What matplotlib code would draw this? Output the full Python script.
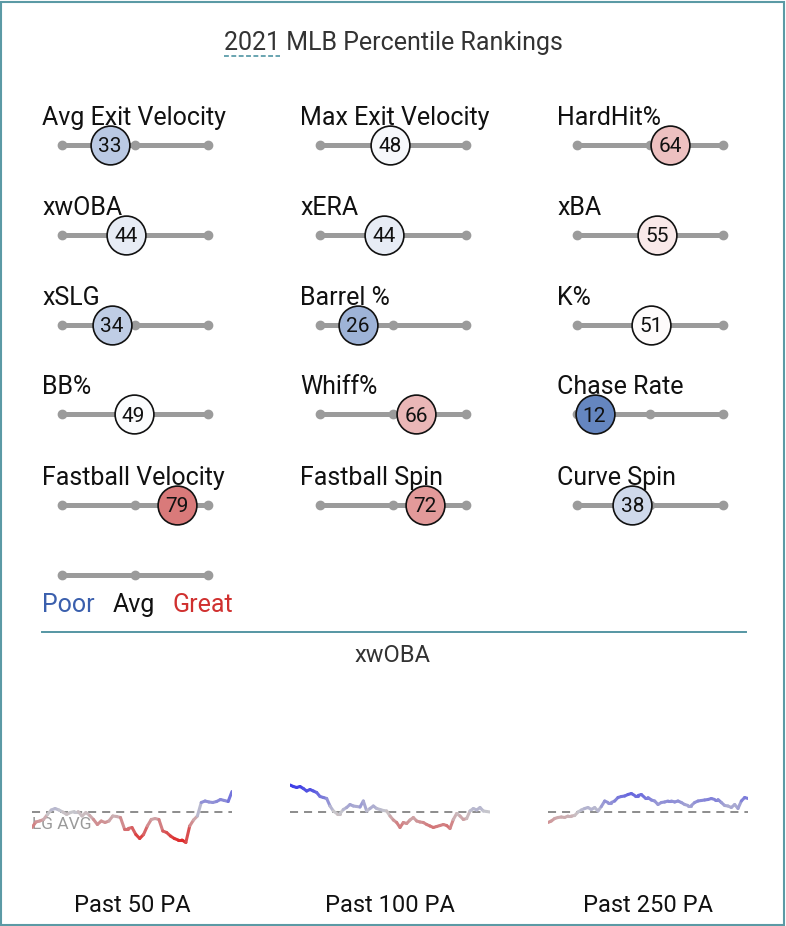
import matplotlib
matplotlib.use("Agg")
import matplotlib.pyplot as plt
import numpy as np
from matplotlib.collections import LineCollection
from matplotlib.colors import LinearSegmentedColormap, TwoSlopeNorm
from matplotlib.lines import Line2D
from matplotlib.patches import Rectangle

plt.rcParams["font.family"] = ["Liberation Sans Narrow", "Roboto", "DejaVu Sans"]
plt.rcParams["lines.scale_dashes"] = False

W, H = 786, 926

# percentile rankings, read left to right, top to bottom
metrics = [
    "Avg Exit Velocity", "Max Exit Velocity", "HardHit%",
    "xwOBA", "xERA", "xBA",
    "xSLG", "Barrel %", "K%",
    "BB%", "Whiff%", "Chase Rate",
    "Fastball Velocity", "Fastball Spin", "Curve Spin",
]
percentiles = [33, 48, 64, 44, 44, 55, 34, 26, 51, 49, 66, 12, 79, 72, 38]

# rolling xwOBA
lg_avg = 0.315
windows = ["Past 50 PA", "Past 100 PA", "Past 250 PA"]
xwoba_50 = [
    .284, .295, .297, .300, .310, .319, .322, .319, .315, .310, .314, .316,
    .316, .307, .314, .308, .300, .290, .297, .294, .297, .307, .306, .304,
    .282, .282, .284, .270, .262, .270, .287, .300, .302, .300, .277, .274,
    .267, .262, .259, .259, .254, .287, .299, .307, .334, .337, .335, .334,
    .336, .340, .338, .336, .356,
]
xwoba_100 = [
    .369, .366, .364, .366, .362, .357, .360, .357, .354, .346, .344, .342,
    .327, .317, .312, .312, .320, .324, .330, .327, .326, .325, .337, .317,
    .322, .327, .322, .320, .318, .317, .307, .299, .294, .284, .294, .292,
    .299, .304, .297, .295, .294, .290, .287, .284, .286, .288, .290, .288,
    .282, .300, .312, .307, .300, .302, .317, .322, .319, .324, .317, .316,
    .315,
]
xwoba_250 = [
    .294, .297, .302, .304, .305, .304, .307, .307, .308, .315, .319, .322,
    .324, .320, .324, .317, .326, .337, .334, .334, .337, .344, .346, .347,
    .350, .352, .348, .348, .350, .344, .344, .339, .337, .330, .334, .335,
    .337, .337, .335, .337, .334, .330, .328, .328, .334, .337, .338, .339,
    .340, .342, .340, .340, .334, .328, .327, .324, .330, .322, .337, .344,
    .342,
]

fig = plt.figure(figsize=(W / 100, H / 100), dpi=100)


def fig_box(x, y, w, h):
    # pixel box with top-left origin -> figure fraction rect
    return [x / W, 1 - (y + h) / H, w / W, h / H]


pct_cmap = LinearSegmentedColormap.from_list("savant", ["#3661ad", "#ffffff", "#be1b1b"])

col_x = [62, 320, 577]
row_y = [145, 235, 325, 414, 505]
bar_w = 146
label_size = 18


def draw_bar(ax):
    ax.plot([0, 100], [0, 0], color="#9b9b9b", lw=3.6, solid_capstyle="butt",
            zorder=1, clip_on=False)
    ax.plot([0, 50, 100], [0, 0, 0], "o", color="#9b9b9b", ms=6, zorder=1, clip_on=False)
    ax.set_xlim(0, 100)
    ax.set_ylim(-1, 1)
    ax.axis("off")


for i, (name, pct) in enumerate(zip(metrics, percentiles)):
    ax = fig.add_axes(fig_box(col_x[i % 3], row_y[i // 3] - 20, bar_w, 40))
    draw_bar(ax)
    ax.scatter([pct], [0], s=780, color=pct_cmap(pct / 100), edgecolor="#111111",
               linewidth=1.2, zorder=3, clip_on=False)
    ax.text(pct, 0, str(pct), ha="center", va="center_baseline", fontsize=15,
            color="#111111", zorder=4)
    ax.annotate(name, xy=(0, 0.5), xycoords="axes fraction", xytext=(-20, 20),
                textcoords="offset pixels", ha="left", va="baseline",
                fontsize=label_size, color="#111111")

# legend bar
ax = fig.add_axes(fig_box(col_x[0], 575 - 20, bar_w, 40))
draw_bar(ax)
for txt, dx, c in [("Poor", -20, "#3a5fad"), ("Avg", 51, "#111111"), ("Great", 111, "#d0302f")]:
    ax.annotate(txt, xy=(0, 0.5), xycoords="axes fraction", xytext=(dx, -37),
                textcoords="offset pixels", ha="left", va="baseline",
                fontsize=label_size, color=c)

# title with dashed underline under the year
title = fig.text(393 / W, 1 - 50 / H, "2021 MLB Percentile Rankings", ha="center",
                 va="baseline", fontsize=label_size, color="#333333")
fig.canvas.draw()
renderer = fig.canvas.get_renderer()
tb = title.get_window_extent(renderer)
tmp = fig.text(0, 0, "2021", fontsize=label_size)
yw = tmp.get_window_extent(renderer).width
tmp.remove()
fig.add_artist(Line2D([tb.x0 / W, (tb.x0 + yw) / W], [1 - 56 / H, 1 - 56 / H],
                      transform=fig.transFigure, color="#4f95a3", lw=1.2,
                      ls=(0, (3.5, 1.8))))

# separator + section title
fig.add_artist(Line2D([42 / W, 746 / W], [1 - 632 / H, 1 - 632 / H],
                      transform=fig.transFigure, color="#5596a3", lw=1.4))
fig.text(393 / W, 1 - 655 / H, "xwOBA", ha="center", va="center", fontsize=17,
         color="#333333")

# rolling xwOBA sparklines
spark_norm = TwoSlopeNorm(vmin=0.255, vcenter=lg_avg, vmax=0.370)
spark_cmap = LinearSegmentedColormap.from_list("trend", ["#e02424", "#c8c8cc", "#3434e8"])
spark_x = [32, 290, 548]
for k, (left, label, vals) in enumerate(zip(spark_x, windows, [xwoba_50, xwoba_100, xwoba_250])):
    ax = fig.add_axes(fig_box(left, 752, 200, 120))
    vals = np.asarray(vals)
    x = np.arange(len(vals))
    pts = np.column_stack([x, vals])
    segs = np.stack([pts[:-1], pts[1:]], axis=1)
    lc = LineCollection(segs, cmap=spark_cmap, norm=spark_norm, linewidths=2.2,
                        capstyle="round", joinstyle="round", zorder=2)
    lc.set_array((vals[:-1] + vals[1:]) / 2)
    ax.add_collection(lc)
    ax.axhline(lg_avg, color="#8c8c8c", lw=1.4, ls=(0, (5.8, 4.3)), zorder=1)
    if k == 0:
        ax.annotate("LG AVG", xy=(0, lg_avg), xytext=(0, -5), textcoords="offset pixels",
                    ha="left", va="top", fontsize=12.5, color="#9a9a9a", zorder=0)
    ax.set_xlim(0, len(vals) - 1)
    ax.set_ylim(lg_avg - 0.12, lg_avg + 0.12)
    ax.axis("off")
    fig.text((left + 100) / W, 1 - 905 / H, label, ha="center", va="center",
             fontsize=17, color="#111111")

# outer frame
fig.add_artist(Rectangle((1 / W, 1 / H), 1 - 3 / W, 1 - 3 / H, transform=fig.transFigure,
                         fill=False, edgecolor="#5b9aa5", lw=1.5))

fig.savefig("out.png", dpi=100)
